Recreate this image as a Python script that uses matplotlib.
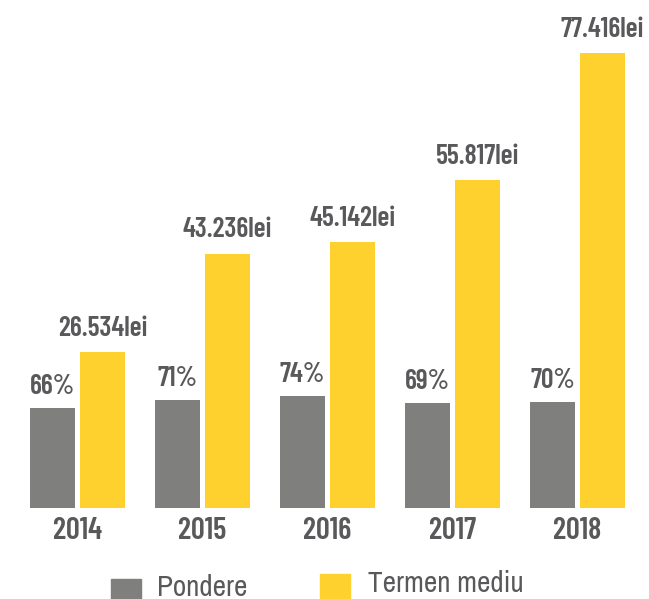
import matplotlib
matplotlib.use("Agg")
import matplotlib.pyplot as plt
from matplotlib.patches import Rectangle

years = ["2014", "2015", "2016", "2017", "2018"]
pondere = [66, 71, 74, 69, 70]
termen = [26.534, 43.236, 45.142, 55.817, 77.416]
pondere_labels = ["66%", "71%", "74%", "69%", "70%"]
termen_labels = ["26.534lei", "43.236lei", "45.142lei", "55.817lei", "77.416lei"]

GREY = "#7f7f7d"
YELLOW = "#ffd12e"
TXT = "#59595b"

cond = ["Barlow Condensed", "DejaVu Sans"]
narrow = ["Archivo Narrow", "Liberation Sans", "DejaVu Sans"]

fig = plt.figure(figsize=(6.49, 5.99), dpi=100)
W, H = 649, 599
# axes: baseline at y=507.5 px, top at 40 px
ax = fig.add_axes([0, 91.5 / H, 1, 467.5 / H])
ax2 = ax.twinx()

x = list(range(len(years)))
bw = 0.36
ax.bar([i + 0.2 for i in x], termen, width=bw, color=YELLOW, zorder=2)
ax2.bar([i - 0.2 for i in x], pondere, width=bw, color=GREY, zorder=2)

ax.set_xlim(-0.62, 4.572)
ax.set_ylim(0, 79.6)
ax2.set_ylim(0, 309)

for i in x:
    ax.annotate(termen_labels[i], (i + 0.2, termen[i]), xytext=(0, 8),
                textcoords="offset points", ha="center", va="bottom",
                fontsize=20, fontweight=600, color=TXT, family=cond)
    ax2.annotate(pondere_labels[i], (i - 0.2, pondere[i]), xytext=(0, 6.5),
                 textcoords="offset points", ha="center", va="bottom",
                 fontsize=20, fontweight=600, color=TXT, family=cond)

ax.set_xticks(x)
ax.set_xticklabels(years, fontsize=22, fontweight=600, color=TXT, family=cond)
ax.tick_params(axis="x", length=0, pad=7)
ax.set_yticks([])
ax2.set_yticks([])
for a in (ax, ax2):
    for s in a.spines.values():
        s.set_visible(False)

# legend
fig.add_artist(Rectangle((111 / W, -0.02), 30 / W, (20 / H) + 0.02,
                         transform=fig.transFigure, color=GREY))
fig.add_artist(Rectangle((320 / W, -0.02), 30 / W, (25 / H) + 0.02,
                         transform=fig.transFigure, color=YELLOW))
fig.text(157 / W, 1 - 595.5 / H, "Pondere", fontsize=21, color=TXT,
         family=narrow, va="baseline", ha="left")
fig.text(368 / W, 1 - 592.5 / H, "Termen mediu", fontsize=21, color=TXT,
         family=narrow, va="baseline", ha="left")

fig.savefig("out.png", dpi=100)
